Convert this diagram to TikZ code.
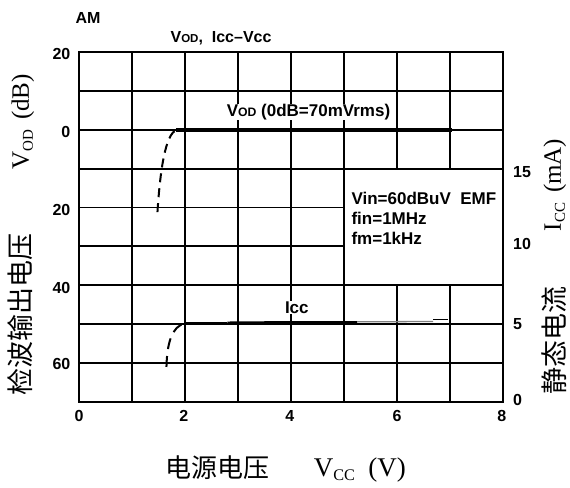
\documentclass[tikz,border=0pt]{standalone}
\usepackage{graphicx}
\usepackage{fontspec}
\setmainfont{Liberation Sans}
\newfontfamily\timesfont{Liberation Serif}
\newfontfamily\cjk{Noto Sans CJK SC}
\newcommand{\smcap}[1]{\scalebox{0.72}{#1}}
\newcommand{\lowsub}[1]{\raisebox{-0.35ex}{\scalebox{0.6}{#1}}}

\tikzset{
  gridline/.style={line width=1.9pt},
  ticklabel/.style={font=\fontsize{16}{16}\selectfont\bfseries, inner sep=1pt},
  plotlabel/.style={font=\fontsize{17}{20}\selectfont\bfseries, inner sep=1pt},
  cjklabel/.style={font=\cjk\fontsize{27}{27}\selectfont, inner sep=0pt},
  serlabel/.style={font=\timesfont\fontsize{25}{25}\selectfont, inner sep=0pt},
  dashcurve/.style={line width=2pt, dash pattern=on 9pt off 6pt},
  vodcurve/.style={line width=4pt},
  icccurve/.style={line width=3pt}
}

\begin{document}
\begin{tikzpicture}[x=53pt, y=38.9pt]
\useasboundingbox (-1.4906,-2.2108) rectangle (9.2642,10.334);
% grid and frame
\draw[gridline, xstep=53pt, ystep=38.9pt] (0,0) grid (8,9);
\draw[gridline] (0,0) rectangle (8,9);
% conditions box
\fill[white] (5,3) rectangle (8,6);
\draw[gridline] (5,3) rectangle (8,6);
\node[plotlabel, anchor=north west, align=left] (cond) at (5.12,5.42) {Vin=60dBuV\ \ EMF\\fin=1MHz\\fm=1kHz};
% Vod curve
\draw[vodcurve] (1.83,7) -- (7.04,7);
\draw[dashcurve] (1.48,4.88) .. controls (1.53,5.9) and (1.62,6.9) .. (1.85,7);
\node[plotlabel, fill=white, inner xsep=2pt, inner ysep=0pt] (vodlab) at (4.33,7.46) {V\smcap{OD} (0dB=70mVrms)};
% Icc curve
\draw[line width=2.5pt] (2,2.02) -- (2.8,2.02);
\draw[icccurve] (2.8,2.03) -- (3.8,2.04) -- (5.25,2.04);
\draw[line width=1.3pt, gray] (5.25,2.06) -- (6.68,2.07);
\draw[line width=1.3pt] (6.68,2.12) -- (6.96,2.12);
\draw[dashcurve, dash pattern=on 11pt off 7pt] (1.65,0.9) .. controls (1.66,1.5) and (1.75,1.95) .. (2.0,2.02);
\node[plotlabel, fill=white, inner ysep=1pt] (icclab) at (4.11,2.43) {Icc};
% left scale
\node[ticklabel, anchor=east] (l20) at (-0.14,8.94) {20};
\node[ticklabel, anchor=east] (l0) at (-0.14,6.94) {0};
\node[ticklabel, anchor=east] (l20b) at (-0.14,4.94) {20};
\node[ticklabel, anchor=east] (l40) at (-0.14,2.94) {40};
\node[ticklabel, anchor=east] (l60) at (-0.14,0.98) {60};
% right scale
\node[ticklabel, anchor=west] (r15) at (8.17,5.9) {15};
\node[ticklabel, anchor=west] (r10) at (8.17,4.05) {10};
\node[ticklabel, anchor=west] (r5) at (8.17,2) {5};
\node[ticklabel, anchor=west] (r0) at (8.17,0.05) {0};
% bottom scale
\node[ticklabel, anchor=north] (b0) at (0,-0.18) {0};
\node[ticklabel, anchor=north] (b2) at (1.98,-0.18) {2};
\node[ticklabel, anchor=north] (b4) at (3.98,-0.18) {4};
\node[ticklabel, anchor=north] (b6) at (6,-0.18) {6};
\node[ticklabel, anchor=north] (b8) at (7.98,-0.18) {8};
% titles
\node[ticklabel] (mode) at (0.17,9.86) {AM};
\node[ticklabel] (title) at (2.68,9.36) {V\smcap{OD},\ \ Icc--Vcc};
% axis names
\node[cjklabel, rotate=90] (ylab) at (-1.113,2.26) {检波输出电压};
\node[serlabel, rotate=90] (yunit) at (-1.06,7.2) {V\lowsub{OD}\hspace{0.4em}(dB)};
\node[cjklabel, rotate=90] (rlab) at (8.96,1.59) {静态电流};
\node[serlabel, rotate=90] (runit) at (8.98,5.58) {I\lowsub{CC}\hspace{0.4em}(mA)};
\node[cjklabel, font=\cjk\fontsize{26}{26}\selectfont] (xlab) at (2.62,-1.70) {电源电压};
\node[serlabel, font=\timesfont\fontsize{27}{27}\selectfont] (xunit) at (5.30,-1.75) {V\lowsub{CC}\hspace{0.5em}(V)};
\end{tikzpicture}
\end{document}
